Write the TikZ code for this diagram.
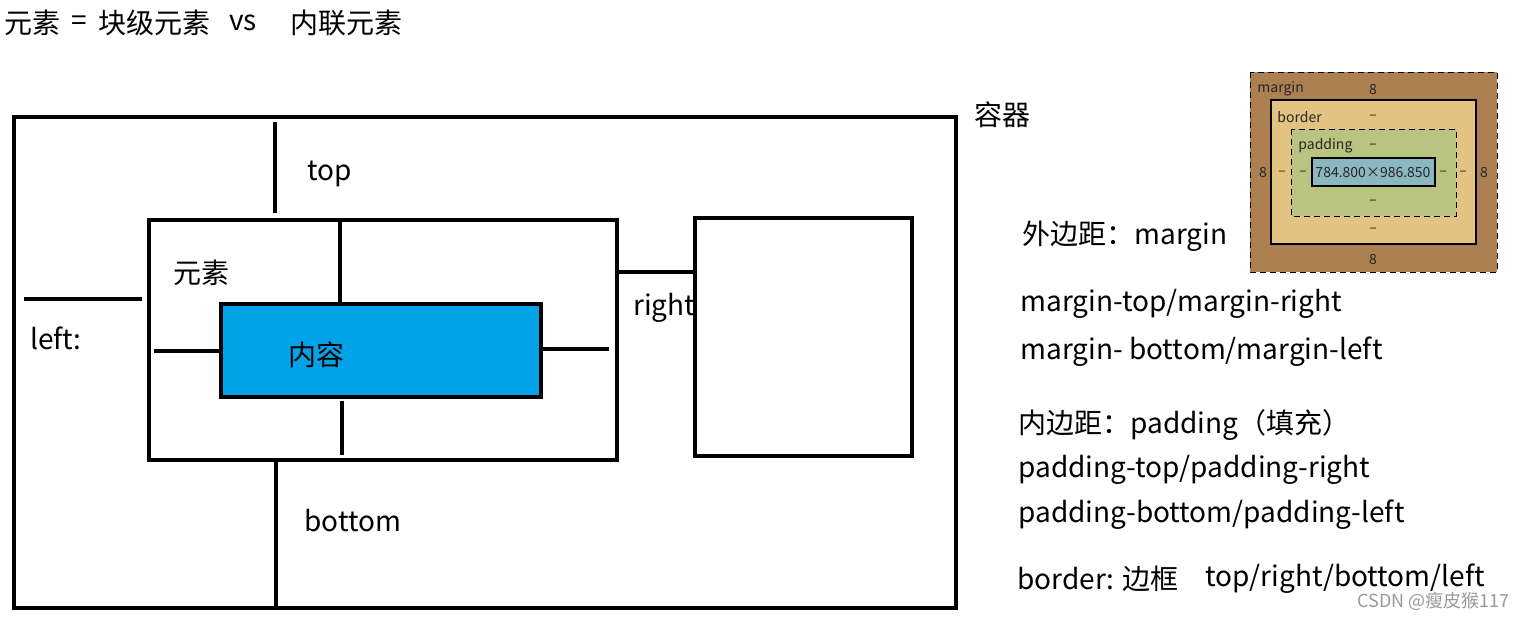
\documentclass[tikz,border=0pt]{standalone}
\usepackage{fontspec}
\setmainfont{Noto Sans CJK SC}
\begin{document}
\begin{tikzpicture}[x=0.5pt,y=-0.5pt,
  thick line/.style={line width=2pt,line cap=butt},
  txt/.style={anchor=west,inner sep=0pt,font=\fontsize{14}{16}\selectfont},
  small/.style={inner sep=0pt,font=\fontsize{7}{8}\selectfont,text=black!85},
]
\useasboundingbox (0,0) rectangle (1523,618);
\definecolor{cblue}{RGB}{0,162,232}
\definecolor{mcol}{RGB}{173,128,82}
\definecolor{bcol}{RGB}{227,195,129}
\definecolor{pcol}{RGB}{184,196,128}
\definecolor{ccol}{RGB}{140,182,192}

% title
\node[txt] (title1) at (4,23) {元素};
\node[txt] (titleeq) at (71,23) {=};
\node[txt] (title1b) at (98,23) {块级元素};
\node[txt] (title2) at (229,23) {vs};
\node[txt] (title3) at (290,23) {内联元素};

% container
\draw[thick line] (14,117) rectangle (956,608);
\node[txt] (rongqi) at (974,115) {容器};
% element
\draw[thick line] (149,220) rectangle (617,460);
\node[txt] (yuansu) at (173,273) {元素};
% content
\draw[thick line,fill=cblue] (221,304) rectangle (541,397);
\node[txt] (neirong) at (288,355) {内容};
% right box
\draw[thick line] (695,218) rectangle (912,456);

% margin lines
\draw[thick line] (275,122) -- (275,213);
\node[txt] (top) at (307,174) {top};
\draw[thick line] (24,299) -- (142,299);
\node[txt] (left) at (30,338) {left:};
\draw[thick line] (276,460) -- (276,608);
\node[txt] (bottom) at (304,521) {bottom};
\draw[thick line] (617,272) -- (697,272);
\node[txt] (right) at (633,308) {right};

% padding lines
\draw[thick line] (340,222) -- (340,303);
\draw[thick line] (154,351) -- (221,351);
\draw[thick line] (541,349) -- (609,349);
\draw[thick line] (342,401) -- (342,455);

% box model
\draw[densely dashed,line width=0.5pt,fill=mcol] (1250,72) rectangle (1497,272);
\draw[line width=0.7pt,fill=bcol] (1271,100) rectangle (1476,244);
\draw[densely dashed,line width=0.5pt,fill=pcol] (1291,129) rectangle (1456,216);
\draw[line width=0.7pt,fill=ccol] (1312,158) rectangle (1435,186);
\node[small,anchor=west] (bm1) at (1257,89) {margin};
\node[small] (bm2) at (1373,89) {8};
\node[small,anchor=west] (bm3) at (1277,117) {border};
\node[small] (bm4) at (1373,117) {–};
\node[small,anchor=west] (bm5) at (1298,146) {padding};
\node[small] (bm6) at (1373,146) {–};
\node[small] (bm7) at (1373,173) {784.800×986.850};
\node[small] (bm8) at (1263,173) {8};
\node[small] (bm9) at (1282,173) {–};
\node[small] (bm10) at (1303,173) {–};
\node[small] (bm11) at (1443,173) {–};
\node[small] (bm12) at (1463,173) {–};
\node[small] (bm13) at (1484,173) {8};
\node[small] (bm14) at (1373,202) {–};
\node[small] (bm15) at (1373,230) {–};
\node[small] (bm16) at (1373,259) {8};

% right texts
\node[txt] (t1) at (1022,236) {外边距：margin};
\node[txt] (t2) at (1020,304) {margin-top/margin-right};
\node[txt] (t3) at (1020,352) {margin- bottom/margin-left};
\node[txt] (t4) at (1018,425) {内边距：padding（填充）};
\node[txt] (t5) at (1018,470) {padding-top/padding-right};
\node[txt] (t6) at (1018,515) {padding-bottom/padding-left};
\node[txt] (t7) at (1017,579) {border: 边框};
\node[txt] (t8) at (1205,579) {top/right/bottom/left};
\node[txt,font=\fontsize{9}{10}\selectfont,text=black!40] (wm) at (1357,601) {CSDN @瘦皮猴117};
\end{tikzpicture}
\end{document}
